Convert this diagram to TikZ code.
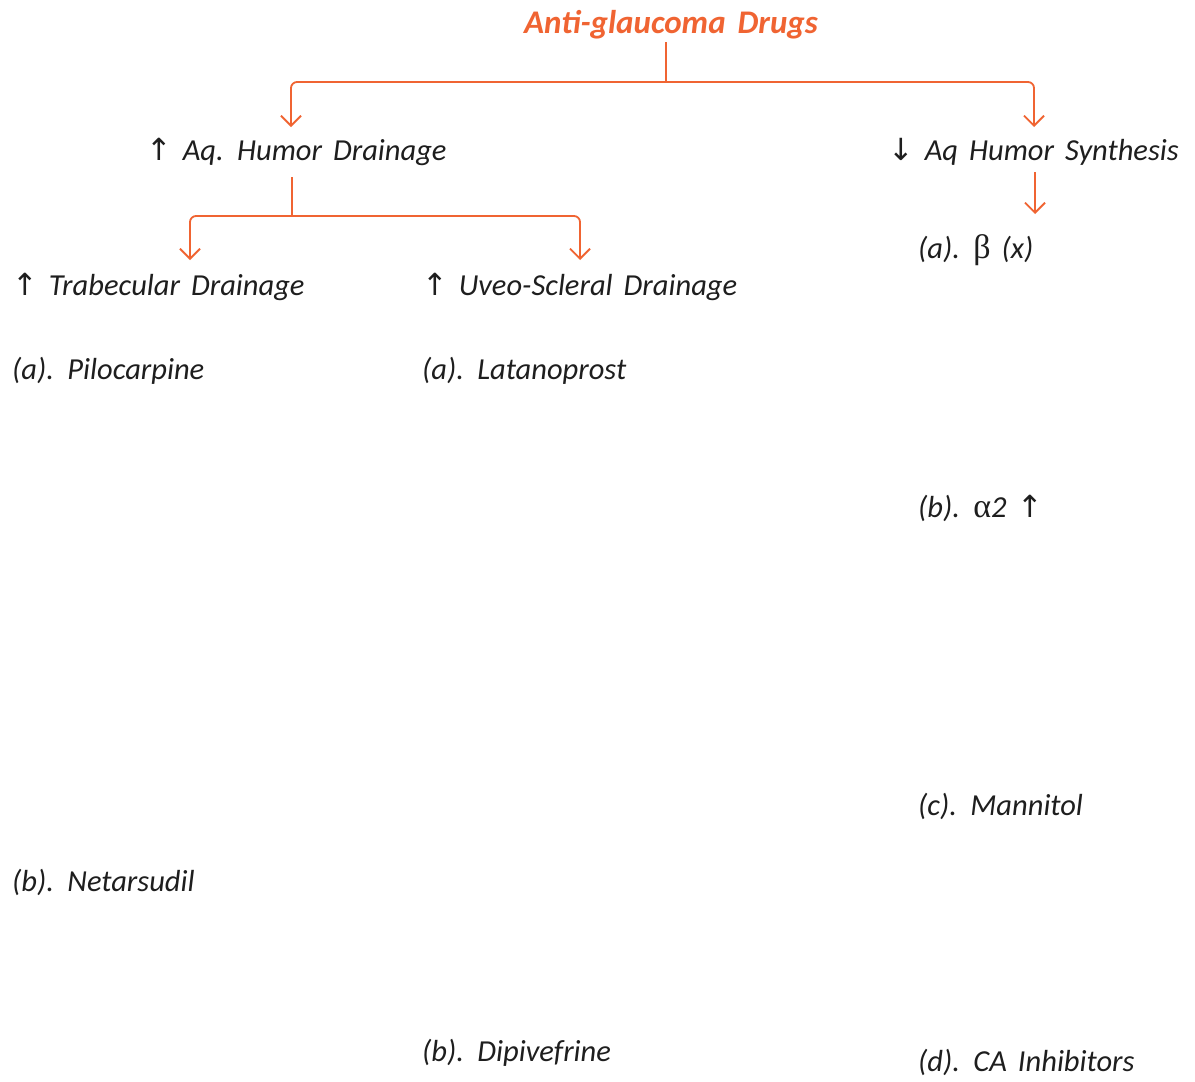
\documentclass[tikz,border=0pt]{standalone}
\usepackage{fontspec}
\setmainfont{Carlito}[WordSpace={1.6,0.5,0.3}]
\newfontfamily\symfont{DejaVu Sans}
\newfontfamily\grfont{Liberation Serif}
\usetikzlibrary{arrows.meta}
\definecolor{orng}{RGB}{240,100,50}
\definecolor{ink}{RGB}{30,30,30}
\newcommand{\up}{{\symfont\upshape ↑}}
\newcommand{\dn}{{\symfont\upshape ↓}}
\begin{document}
\begin{tikzpicture}[x=1pt,y=-1pt,
  lbl/.style={anchor=west, inner sep=0pt, text=ink, font=\itshape\fontsize{30.5}{34}\selectfont},
  ttl/.style={inner sep=0pt, text=orng, font=\bfseries\itshape\fontsize{33}{36}\selectfont},
  line/.style={draw=orng, line width=1.8pt, rounded corners=6pt},
  conn/.style={line, -{Straight Barb[length=10pt,width=20pt]}}]
\fill[white] (0,0) rectangle (1195,1082);
\useasboundingbox (0,0) rectangle (1195,1082);

\node[ttl] (root) at (671,25) {Anti-glaucoma Drugs};
\node[lbl] (drain) at (146,152) {\up\ Aq. Humor Drainage};
\node[lbl] (synth) at (888,152) {\dn\ Aq Humor Synthesis};
\node[lbl] (trab) at (12,287) {\up\ Trabecular Drainage};
\node[lbl] (uveo) at (422,287) {\up\ Uveo-Scleral Drainage};
\node[lbl] (beta) at (918,250) {(a). {\grfont\upshape\fontsize{34}{36}\selectfont β} (x)};
\node[lbl] (pilo) at (12,371) {(a). Pilocarpine};
\node[lbl] (lata) at (422,371) {(a). Latanoprost};
\node[lbl] (alpha) at (918,508) {(b). {\grfont\upshape\fontsize{34}{36}\selectfont α}2 \up};
\node[lbl] (mann) at (918,806) {(c). Mannitol};
\node[lbl] (neta) at (12,882) {(b). Netarsudil};
\node[lbl] (dipi) at (422,1053) {(b). Dipivefrine};
\node[lbl] (cainh) at (918,1062) {(d). CA Inhibitors};

\coordinate (j1) at (666,82);
\coordinate (a1) at (291,127);
\coordinate (a2) at (1034,127);
\coordinate (j2) at (292,216);
\coordinate (a3) at (190,260);
\coordinate (a4) at (580,260);
\coordinate (s1) at (1035,172);
\coordinate (a5) at (1035,214);

\draw[line] (666,42) -- (j1);
\draw[conn] (j1) -| (a1);
\draw[conn] (j1) -| (a2);
\draw[line] (292,177) -- (j2);
\draw[conn] (j2) -| (a3);
\draw[conn] (j2) -| (a4);
\draw[conn] (s1) -- (a5);
\end{tikzpicture}
\end{document}
